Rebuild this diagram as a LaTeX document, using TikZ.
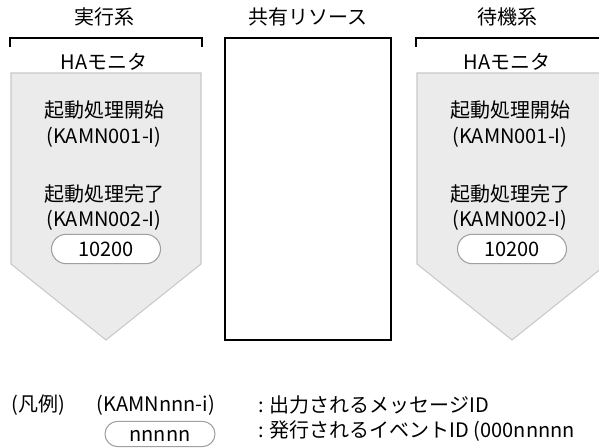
\documentclass[tikz,border=0pt]{standalone}
\usepackage{fontspec}
\setmainfont{Noto Sans CJK JP}
\usepackage{tikz}
\usetikzlibrary{shapes.misc}
\definecolor{cpanel}{HTML}{EBEBEB}
\definecolor{cedge}{HTML}{C8C8C8}
\definecolor{coval}{HTML}{A0A0A0}
\tikzset{
  txt/.style={inner sep=0pt, font=\fontsize{15pt}{18pt}\selectfont},
  ttl/.style={txt},
  brk/.style={draw=black, line width=1.4pt},
  resln/.style={draw=black, line width=1.4pt},
  panel/.style={fill=cpanel, draw=cedge, line width=0.8pt},
  evid/.style={txt, rounded rectangle, draw=coval, fill=white, line width=0.8pt, minimum width=81.75pt, text height=11pt, text depth=0pt, inner ysep=5.5pt},
}

\begin{document}
\begin{tikzpicture}[x=0.75pt,y=-0.75pt]
\useasboundingbox (0,0) rectangle (599,448);
% titles
\node[ttl] (act) at (104,17) {実行系};
\node[ttl] (res) at (308,17) {共有リソース};
\node[ttl] (stb) at (507,17) {待機系};
% brackets
\draw[brk] (10,47) |- (202,38) -- (202,47);
\draw[brk] (416,47) |- (610,38) -- (610,47);
% shared resource
\draw[resln] (225,38) rectangle (391,340);
% active side
\draw[panel] (11,73) -- (201,73) -- (201,264) -- (106,340) -- (11,264) -- cycle;
\node[txt] (hamA) at (104,62) {HAモニタ};
\node[txt] (startA) at (104,110) {起動処理開始};
\node[txt] (msg1A) at (104,137) {(KAMN001-I)};
\node[txt] (doneA) at (104,194) {起動処理完了};
\node[txt] (msg2A) at (104,220) {(KAMN002-I)};
\node[evid] (evA) at (106,249) {10200};
% standby side
\draw[panel] (417,73) -- (607,73) -- (607,264) -- (512,340) -- (417,264) -- cycle;
\node[txt] (hamS) at (507,62) {HAモニタ};
\node[txt] (startS) at (510,110) {起動処理開始};
\node[txt] (msg1S) at (510,137) {(KAMN001-I)};
\node[txt] (doneS) at (510,194) {起動処理完了};
\node[txt] (msg2S) at (510,220) {(KAMN002-I)};
\node[evid] (evS) at (512,249) {10200};
% legend
\node[txt] (leg) at (38,405) {(凡例)};
\node[txt] (legmsg) at (156,405) {(KAMNnnn-i)};
\node[evid, minimum width=82.5pt, inner ysep=4pt] (legev) at (160,434) {nnnnn};
\node[txt, anchor=west] (legmsgt) at (258,405) {: 出力されるメッセージID};
\node[txt, anchor=west] (legevt) at (258,431) {: 発行されるイベントID (000nnnnn};
\end{tikzpicture}
\end{document}
